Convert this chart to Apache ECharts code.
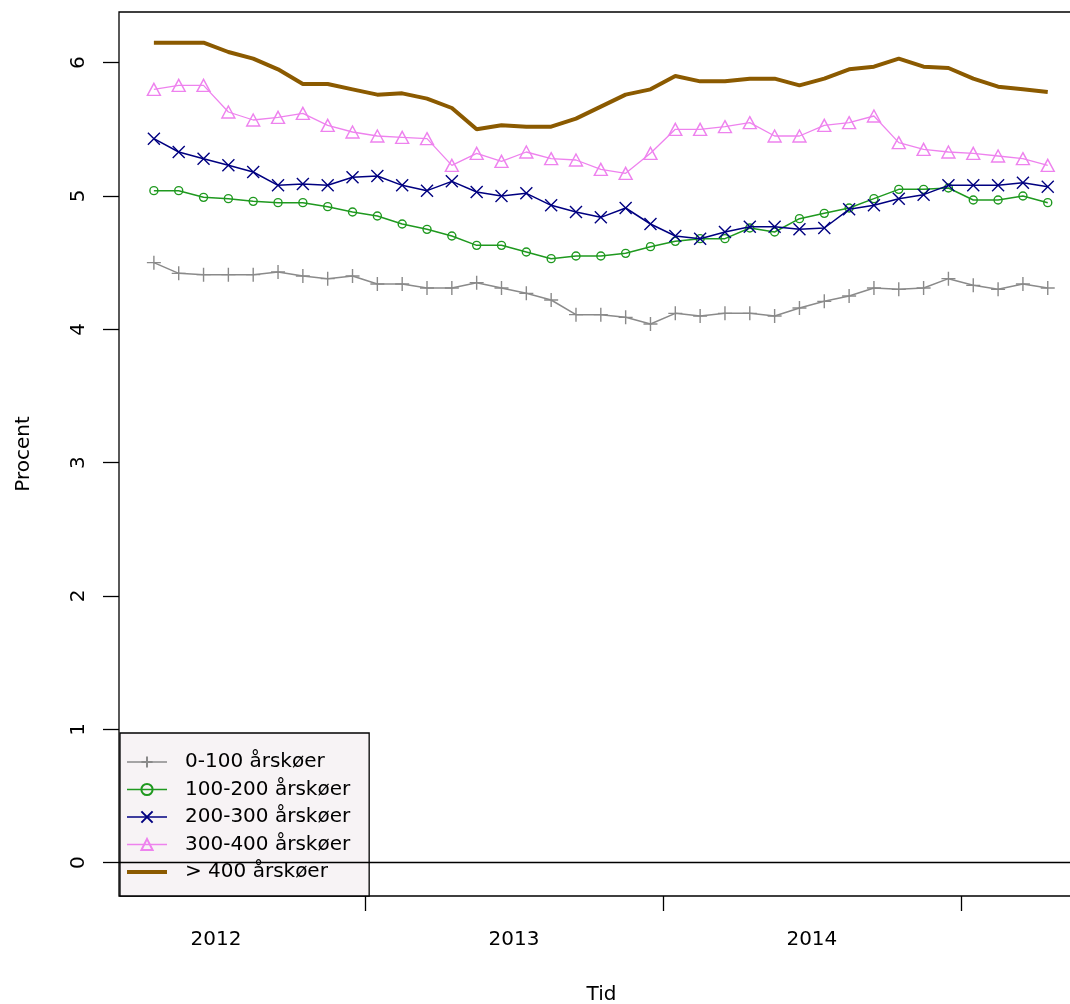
<!DOCTYPE html>
<html>
<head>
<meta charset="utf-8">
<script src="https://cdn.jsdelivr.net/npm/echarts@6/dist/echarts.min.js"></script>
<style>html,body{margin:0;padding:0;background:#fff}#c{width:1070px;height:1004px}</style>
</head>
<body>
<div id="c"></div>
<script>
// Monthly observations, April 2012 – April 2015
const months = ['2012-04','2012-05','2012-06','2012-07','2012-08','2012-09','2012-10','2012-11','2012-12',
  '2013-01','2013-02','2013-03','2013-04','2013-05','2013-06','2013-07','2013-08','2013-09','2013-10','2013-11','2013-12',
  '2014-01','2014-02','2014-03','2014-04','2014-05','2014-06','2014-07','2014-08','2014-09','2014-10','2014-11','2014-12',
  '2015-01','2015-02','2015-03','2015-04'];
const seriesNames = ['0-100 årskøer','100-200 årskøer','200-300 årskøer','300-400 årskøer','> 400 årskøer'];
const s0_100 = [4.50,4.42,4.41,4.41,4.41,4.43,4.40,4.38,4.40, 4.34,4.34,4.31,4.31,4.35,4.31,4.27,4.22,4.11,4.11,
  4.09,4.04,4.12,4.10,4.12,4.12,4.10,4.16,4.21,4.25, 4.31,4.30,4.31,4.38,4.33,4.30,4.34,4.31];
const s100_200 = [5.04,5.04,4.99,4.98,4.96,4.95,4.95,4.92,4.88, 4.85,4.79,4.75,4.70,4.63,4.63,4.58,4.53,4.55,4.55,
  4.57,4.62,4.66,4.68,4.68,4.76,4.73,4.83,4.87,4.91, 4.98,5.05,5.05,5.06,4.97,4.97,5.00,4.95];
const s200_300 = [5.43,5.33,5.28,5.23,5.18,5.08,5.09,5.08,5.14, 5.15,5.08,5.04,5.11,5.03,5.00,5.02,4.93,4.88,4.84,
  4.91,4.79,4.70,4.68,4.73,4.77,4.77,4.75,4.76,4.90, 4.93,4.98,5.01,5.08,5.08,5.08,5.10,5.07];
const s300_400 = [5.80,5.83,5.83,5.63,5.57,5.59,5.62,5.53,5.48, 5.45,5.44,5.43,5.23,5.32,5.26,5.33,5.28,5.27,5.20,
  5.17,5.32,5.50,5.50,5.52,5.55,5.45,5.45,5.53,5.55, 5.60,5.40,5.35,5.33,5.32,5.30,5.28,5.23];
const s400 = [6.15,6.15,6.15,6.08,6.03,5.95,5.84,5.84,5.80, 5.76,5.77,5.73,5.66,5.50,5.53,5.52,5.52,5.58,5.67,
  5.76,5.80,5.90,5.86,5.86,5.88,5.88,5.83,5.88,5.95, 5.97,6.03,5.97,5.96,5.88,5.82,5.80,5.78];
const yearLabels = ['2012','2013','2014'];
const yTicks = [0,1,2,3,4,5,6];

// Derived positions on the month index scale
const idxOf = m => months.indexOf(m);
const yearStart = y => idxOf(y + '-04') - 3 - 0.5;  // boundary before January
const yearCenters = yearLabels.map(y => yearStart(y) + 6);
const yearTicks = ['2013','2014','2015'].map(y => idxOf(y + '-01') - 0.5);
const pts = arr => arr.map((v, i) => [i, v]);

const FONT = 'DejaVu Sans';
const colors = ['#8a8a8a','#1f991f','#000080','#ee82ee','#8b5a00'];
const symbols = [
  'path://M5,0 L5,10 M0,5 L10,5',
  'circle',
  'path://M0,0 L10,10 M10,0 L0,10',
  'path://M6,0 L12,10.4 L0,10.4 Z',
  'circle'
];
const symSizes = [14, 8, 12, [13, 12], 1];
const lineWidths = [1.5, 1.5, 1.5, 1.3, 4];
const dataSets = [s0_100, s100_200, s200_300, s300_400, s400];

const series = dataSets.map((d, k) => ({
  name: seriesNames[k],
  type: 'line',
  data: pts(d),
  symbol: symbols[k],
  symbolSize: symSizes[k],
  showSymbol: k !== 4,
  lineStyle: { color: colors[k], width: lineWidths[k] },
  itemStyle: k === 4
    ? { color: 'rgba(0,0,0,0)', borderColor: 'rgba(0,0,0,0)', borderWidth: 0 }
    : { color: 'rgba(255,255,255,0)', borderColor: colors[k], borderWidth: 1.4 },
  emphasis: { disabled: true },
  z: 2 + k
}));
series[0].markLine = {
  silent: true, symbol: 'none', label: { show: false },
  lineStyle: { color: '#000', width: 1.3, type: 'solid' },
  data: [{ yAxis: 0 }]
};

const legendData = seriesNames.map((n, k) => ({
  name: n,
  lineStyle: { color: colors[k], width: lineWidths[k] }
}));

const chart = echarts.init(document.getElementById('c'), null, { renderer: 'canvas' });
chart.setOption({
  animation: false,
  backgroundColor: '#fff',
  grid: { left: 119, top: 12, width: 965, height: 884, show: true, borderColor: '#000', borderWidth: 1.3,
          backgroundColor: '#fff', outerBoundsMode: 'none', containLabel: false },
  xAxis: {
    type: 'value', min: -1.405, max: 37.46,
    axisLine: { show: false, onZero: false }, splitLine: { show: false },
    axisTick: { show: true, customValues: yearTicks, length: 15, lineStyle: { color: '#000', width: 1.3 } },
    axisLabel: {
      customValues: yearCenters, margin: 34, fontSize: 20, fontFamily: FONT, color: '#000',
      formatter: v => yearLabels[yearCenters.findIndex(c => Math.abs(c - v) < 1e-6)] || ''
    },
    name: 'Tid', nameLocation: 'middle', nameGap: 89,
    nameTextStyle: { fontSize: 20, fontFamily: FONT, color: '#000' }
  },
  yAxis: {
    type: 'value', min: -0.25, max: 6.38,
    axisLine: { show: false, onZero: false }, splitLine: { show: false },
    axisTick: { show: true, customValues: yTicks, length: 16, lineStyle: { color: '#000', width: 1.3 } },
    axisLabel: { customValues: yTicks, rotate: 90, margin: 30, fontSize: 20, fontFamily: FONT, color: '#000' },
    name: 'Procent', nameLocation: 'middle', nameGap: 85, nameRotate: 90,
    nameTextStyle: { fontSize: 20, fontFamily: FONT, color: '#000' }
  },
  legend: {
    data: legendData, orient: 'vertical', left: 120, top: 733,
    backgroundColor: '#f7f3f5', borderColor: '#000', borderWidth: 1.3,
    padding: [19, 19, 14, 5], itemGap: 7.5, itemWidth: 40, itemHeight: 14,
    selectedMode: false,
    textStyle: { fontSize: 20, lineHeight: 20, fontFamily: FONT, color: '#000', padding: [0, 0, 0, 13] }
  },
  series: series
});
</script>
</body>
</html>
